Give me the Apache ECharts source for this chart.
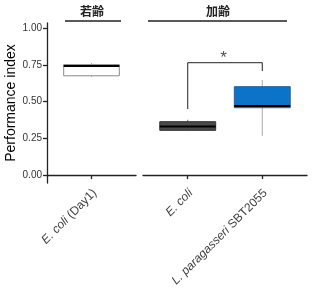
<!DOCTYPE html>
<html>
<head>
<meta charset="UTF-8">
<script src="https://cdn.jsdelivr.net/npm/echarts@6/dist/echarts.min.js"></script>
</head>
<body style="margin:0">
<div id="chart1" style="width:312px;height:300px;"></div>
<script>
// groups on the x axis
var youngGroups = ['E. coli (Day1)'];
var agedGroups = ['E. coli', 'L. paragasseri SBT2055'];
// boxes: [min, Q1, median, Q3, max]
var youngBox = [[0.669, 0.675, 0.742, 0.751, 0.76]];
var agedBox = [[0.30, 0.304, 0.331, 0.363, 0.376], [0.267, 0.458, 0.469, 0.601, 0.646]];
// significance bracket: left end, top, right end
var bracket = [0.449, 0.764, 0.707];
var yTicks = [0, 0.25, 0.5, 0.75, 1];

var youngStyle = [{ fill: '#ffffff', stroke: '#8a8a8a', whisker: '#8a8a8a' }];
var agedStyle = [
	{ fill: '#4a4a4a', stroke: '#333333', whisker: '#666666' },
	{ fill: '#0b74c9', stroke: '#2d5f8f', whisker: '#a8a8a8' }
];

function toRows(boxes) {
	return boxes.map(function (d, i) { return [i + 1].concat(d); });
}

// draw one box with whiskers through the axis scales
function boxRenderer(styles) {
	return function (params, api) {
		var x = api.value(0);
		var st = styles[params.dataIndex];
		var w = api.size([0.75, 0])[0];
		var lo = api.coord([x, api.value(1)]);
		var q1 = api.coord([x, api.value(2)]);
		var md = api.coord([x, api.value(3)]);
		var q3 = api.coord([x, api.value(4)]);
		var hi = api.coord([x, api.value(5)]);
		return {
			type: 'group',
			children: [
				{ type: 'line', shape: { x1: hi[0], y1: hi[1], x2: q3[0], y2: q3[1] }, style: { stroke: st.whisker, lineWidth: 1 } },
				{ type: 'line', shape: { x1: lo[0], y1: lo[1], x2: q1[0], y2: q1[1] }, style: { stroke: st.whisker, lineWidth: 1 } },
				{ type: 'rect', shape: { x: q3[0] - w / 2, y: q3[1], width: w, height: q1[1] - q3[1] }, style: { fill: st.fill, stroke: st.stroke, lineWidth: 1 } },
				{ type: 'line', shape: { x1: md[0] - w / 2, y1: md[1], x2: md[0] + w / 2, y2: md[1] }, style: { stroke: '#000', lineWidth: 2 } }
			]
		};
	};
}

function italicName(name) {
	var p = name.split(' ');
	var it = p.slice(0, 2).join(' ');
	var rest = p.slice(2).join(' ');
	return '{i|' + it + '}' + (rest ? ' ' + rest : '');
}

var labelStyle = {
	fontSize: 12,
	color: '#3d3d3d',
	fontFamily: 'Liberation Sans, Arial, sans-serif',
	rotate: 45,
	margin: 5,
	padding: [9, 0, 0, 0],
	rich: { i: { fontStyle: 'italic', fontSize: 12, color: '#3d3d3d', fontFamily: 'Liberation Sans, Arial, sans-serif' } }
};
var lineStyleAxis = { color: '#222', width: 1.3 };

function xAxis(idx, names) {
	var vals = names.map(function (n, i) { return i + 1; });
	return {
		type: 'value', gridIndex: idx, min: 0.4, max: names.length + 0.6,
		axisLine: { show: true, lineStyle: lineStyleAxis },
		axisTick: { show: true, length: 4, customValues: vals, lineStyle: lineStyleAxis },
		axisLabel: Object.assign({}, labelStyle, {
			customValues: vals,
			formatter: function (v) { return italicName(names[Math.round(v) - 1]); }
		}),
		splitLine: { show: false }
	};
}

var chart1 = echarts.init(document.getElementById('chart1'));
var option = {
	animation: false,
	backgroundColor: '#fff',
	grid: [
		{ left: 47, top: 23, width: 89, height: 160 },
		{ left: 143, top: 23, width: 164, height: 160 }
	],
	xAxis: [xAxis(0, youngGroups), xAxis(1, agedGroups)],
	yAxis: [
		{
			type: 'value', gridIndex: 0, min: -0.054, max: 1.034,
			name: 'Performance index', nameLocation: 'middle', nameGap: 27,
			nameTextStyle: { fontSize: 14, color: '#000', fontFamily: 'Liberation Sans, Arial, sans-serif' },
			axisLine: { show: true, lineStyle: lineStyleAxis },
			axisTick: { show: true, length: 4, customValues: yTicks, lineStyle: lineStyleAxis },
			axisLabel: {
				customValues: yTicks, margin: 5, fontSize: 10, color: '#333',
				fontFamily: 'Liberation Sans, Arial, sans-serif',
				formatter: function (v) { return v.toFixed(2); }
			},
			splitLine: { show: false }
		},
		{ type: 'value', gridIndex: 1, min: -0.054, max: 1.034, show: false }
	],
	series: [
		{ type: 'custom', xAxisIndex: 0, yAxisIndex: 0, renderItem: boxRenderer(youngStyle), data: toRows(youngBox) },
		{ type: 'custom', xAxisIndex: 1, yAxisIndex: 1, renderItem: boxRenderer(agedStyle), data: toRows(agedBox) },
		{
			type: 'line', xAxisIndex: 1, yAxisIndex: 1, symbol: 'none',
			lineStyle: { color: '#222', width: 1 },
			data: [[1, bracket[0]], [1, bracket[1]], [2, bracket[1]], [2, bracket[2]]]
		},
		{
			type: 'scatter', xAxisIndex: 1, yAxisIndex: 1, symbolSize: 0,
			label: { show: true, position: 'inside', formatter: '*', fontSize: 17, color: '#222', fontFamily: 'Liberation Sans, Arial, sans-serif' },
			data: [[1.48, bracket[1] + 0.03]]
		}
	],
	graphic: [
		{ type: 'line', shape: { x1: 65, y1: 21, x2: 121, y2: 21 }, style: { stroke: '#222', lineWidth: 1.3 } },
		{ type: 'line', shape: { x1: 148, y1: 21, x2: 287, y2: 21 }, style: { stroke: '#222', lineWidth: 1.3 } },
		{ type: 'text', x: 92, y: 11, style: { text: '若齢', fontSize: 12, fontWeight: 'bold', fill: '#222', align: 'center', verticalAlign: 'middle', fontFamily: 'Noto Sans CJK JP' } },
		{ type: 'text', x: 218, y: 11, style: { text: '加齢', fontSize: 12, fontWeight: 'bold', fill: '#222', align: 'center', verticalAlign: 'middle', fontFamily: 'Noto Sans CJK JP' } }
	]
};
chart1.setOption(option);
</script>
</body>
</html>
